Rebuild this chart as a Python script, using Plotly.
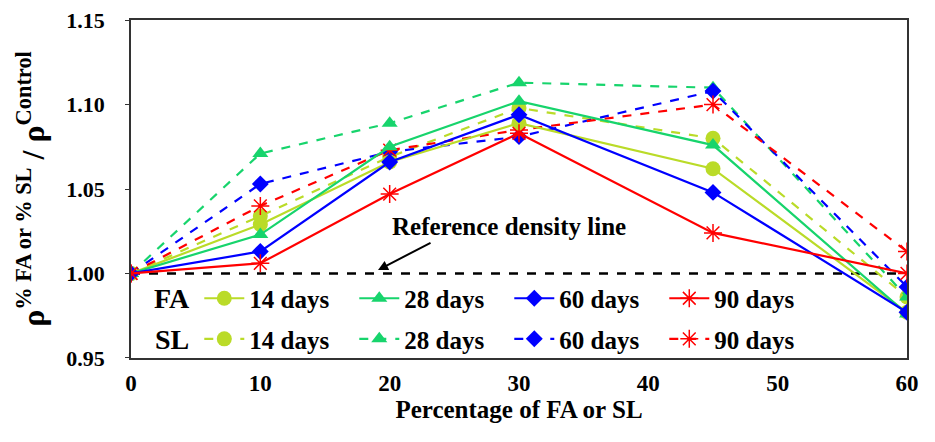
import plotly.graph_objects as go

x_pct = [0, 10, 20, 30, 45, 60]

fa_14 = [1.000, 1.029, 1.066, 1.089, 1.062, 0.977]
fa_28 = [1.000, 1.023, 1.075, 1.102, 1.076, 0.976]
fa_60 = [1.000, 1.013, 1.066, 1.094, 1.048, 0.977]
fa_90 = [1.000, 1.006, 1.047, 1.083, 1.024, 1.000]

sl_14 = [1.000, 1.034, 1.069, 1.098, 1.080, 0.986]
sl_28 = [1.000, 1.071, 1.089, 1.113, 1.110, 0.986]
sl_60 = [1.000, 1.053, 1.072, 1.081, 1.108, 0.992]
sl_90 = [1.000, 1.040, 1.073, 1.085, 1.100, 1.013]

ref_line = [1.0, 1.0]
ref_x = [0, 60]

age_labels = ["14 days", "28 days", "60 days", "90 days"]
y_ticks = [0.95, 1.00, 1.05, 1.10, 1.15]
x_ticks = [0, 10, 20, 30, 40, 50, 60]

colors = ["#BADB28", "#17D46C", "#0000FF", "#FF0000"]
symbols = ["circle", "triangle-up", "diamond", "asterisk-open"]
sizes = [15, 14, 13, 15]

FONT = "Times New Roman, Liberation Serif, serif"

fig = go.Figure()

fig.add_trace(go.Scatter(x=ref_x, y=ref_line, mode="lines",
                         line=dict(color="black", width=2.5, dash="dash"),
                         showlegend=False, hoverinfo="skip"))

def add_series(vals, i, dash, legend):
    sym = symbols[i]
    marker = dict(symbol=sym, size=sizes[i], color=colors[i])
    if sym == "asterisk-open":
        marker["line"] = dict(color=colors[i], width=1.5)
    else:
        marker["line"] = dict(width=0)
    fig.add_trace(go.Scatter(x=x_pct, y=vals, mode="lines+markers",
                             name=age_labels[i],
                             line=dict(color=colors[i], width=2.2, dash=dash),
                             marker=marker, legend=legend))

for i, s in enumerate([sl_14, sl_28, sl_60, sl_90]):
    add_series(s, i, "dash", "legend2")
for i, s in enumerate([fa_14, fa_28, fa_60, fa_90]):
    add_series(s, i, "solid", "legend")

leg_common = dict(orientation="h", xanchor="left", yanchor="middle",
                  bgcolor="rgba(0,0,0,0)", entrywidth=100, entrywidthmode="pixels",
                  font=dict(family=FONT, size=25, color="black", weight="bold"),
                  itemwidth=40, traceorder="normal")

fig.update_layout(
    width=935, height=442,
    margin=dict(l=123, r=36, t=12, b=92, autoexpand=False),
    paper_bgcolor="white", plot_bgcolor="white",
    font=dict(family=FONT, color="black"),
    legend=dict(x=0.088, y=0.176, **leg_common),
    legend2=dict(x=0.088, y=0.056, **leg_common),
    xaxis=dict(range=[0, 60], tickvals=x_ticks, showgrid=False, zeroline=False,
               showline=True, linecolor="#333", linewidth=1.5, mirror=True,
               ticks="", ticklabelstandoff=4, automargin=False,
               ticklabeloverflow="allow",
               tickfont=dict(family=FONT, size=23, weight="bold"),
               title=dict(text="Percentage of FA or SL", standoff=3,
                          font=dict(family=FONT, size=25, weight="bold"))),
    yaxis=dict(range=[0.9499, 1.1501], tickvals=y_ticks, tickformat=".2f",
               showgrid=False, zeroline=False, automargin=False,
               ticklabeloverflow="allow",
               showline=True, linecolor="#333", linewidth=1.5, mirror=True,
               ticks="outside", ticklen=4, tickcolor="#333", ticklabelstandoff=16,
               tickfont=dict(family=FONT, size=22, weight="bold"),
               title=dict(text="ρ<sup>% FA or % SL</sup> / ρ<sup>Control</sup>", standoff=12,
                          font=dict(family=FONT, size=32, weight="bold"))),
)

fig.add_annotation(x=19.1, y=1.002, xref="x", yref="y", text="",
                   showarrow=True, ax=54, ay=-28, axref="pixel", ayref="pixel",
                   arrowhead=2, arrowsize=1, arrowwidth=2, arrowcolor="black")
fig.add_annotation(x=20.05, y=1.0275, xref="x", yref="y", text="Reference density line",
                   showarrow=False, xanchor="left", yanchor="middle",
                   font=dict(family=FONT, size=25, color="black", weight="bold"))

fig.add_annotation(x=0.053, y=0.176, xref="paper", yref="paper", text="FA", showarrow=False,
                   font=dict(family=FONT, size=28, color="black", weight="bold"),
                   xanchor="center", yanchor="middle")
fig.add_annotation(x=0.053, y=0.056, xref="paper", yref="paper", text="SL", showarrow=False,
                   font=dict(family=FONT, size=28, color="black", weight="bold"),
                   xanchor="center", yanchor="middle")

fig.write_html("out.html")
